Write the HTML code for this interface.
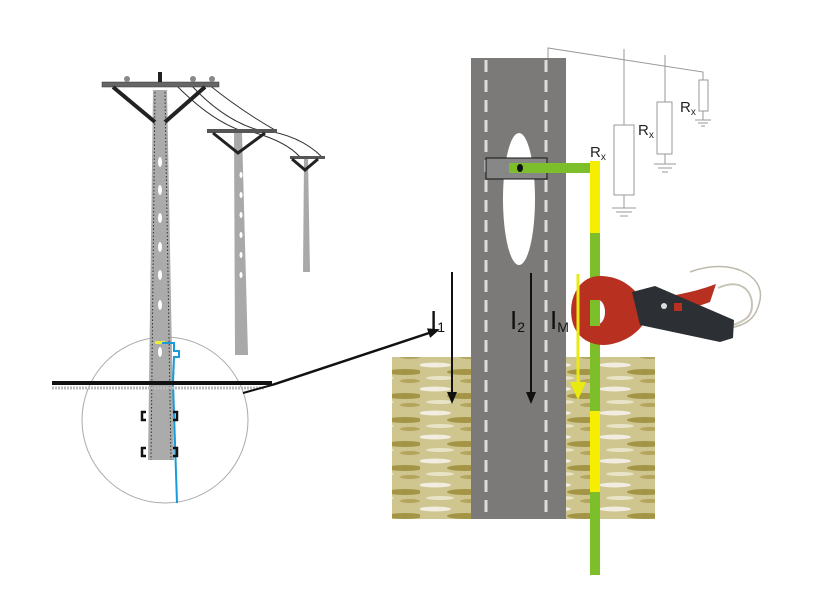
<!DOCTYPE html>
<html><head><meta charset="utf-8"><style>body{margin:0;background:#fff}svg{display:block}</style></head><body>
<svg width="815" height="605" viewBox="0 0 815 605" xmlns="http://www.w3.org/2000/svg" font-family="Liberation Sans, sans-serif">
<defs>
<pattern id="soil" width="60" height="24" patternUnits="userSpaceOnUse">
<rect width="60" height="24" fill="#cfc58f"/>
<ellipse cx="15" cy="5" rx="16" ry="2.5" fill="#f1ede0"/>
<ellipse cx="45" cy="12" rx="18" ry="3" fill="#a39545"/>
<ellipse cx="20" cy="18" rx="14" ry="2" fill="#e9e3c8"/>
<ellipse cx="50" cy="21" rx="10" ry="2" fill="#b3a55c"/>
</pattern>
<marker id="ah" markerWidth="12" markerHeight="10" refX="10" refY="5" orient="auto" markerUnits="userSpaceOnUse"><path d="M0,0 L12,5 L0,10 z" fill="#111"/></marker>
</defs>
<circle cx="165" cy="420" r="83" fill="none" stroke="#aaa" stroke-width="1"/>
<path d="M175,84 Q210,120 242,131 M190,84 Q225,122 262,131 M208,84 Q240,110 275,130 M245,130 Q285,140 300,157 M262,130 Q300,135 322,157" stroke="#333" fill="none" stroke-width="1"/>
<polygon points="304,158 308,158 310,272 303,272" fill="#a9a9a9"/>
<rect x="290" y="156" width="35" height="3" fill="#555"/>
<path d="M292,159 L305,170 L318,159" stroke="#222" stroke-width="3" fill="none"/>
<polygon points="234,132 242,132 248,355 235,355" fill="#a9a9a9"/>
<rect x="207" y="129" width="70" height="4" fill="#555"/>
<path d="M213,133 L238,153 L265,133" stroke="#222" stroke-width="3" fill="none"/>
<g fill="#fff"><ellipse cx="241" cy="175" rx="1.5" ry="3"/><ellipse cx="241" cy="195" rx="1.5" ry="3"/><ellipse cx="241" cy="215" rx="1.5" ry="3"/><ellipse cx="241" cy="235" rx="1.5" ry="3"/><ellipse cx="241" cy="255" rx="1.5" ry="3"/><ellipse cx="241" cy="275" rx="1.5" ry="3"/></g>
<polygon points="153,90 167,90 174,460 148,460" fill="#ababab"/>
<path d="M155,92 L151,460 M165,92 L171,460" stroke="#333" stroke-width="1" stroke-dasharray="1.5,2"/>
<g fill="#fff"><ellipse cx="160" cy="162" rx="2" ry="5"/><ellipse cx="160" cy="190" rx="2" ry="5"/><ellipse cx="160" cy="218" rx="2" ry="5"/><ellipse cx="160" cy="247" rx="2" ry="5"/><ellipse cx="160" cy="275" rx="2" ry="5"/><ellipse cx="160" cy="305" rx="2" ry="5"/><ellipse cx="160" cy="352" rx="2" ry="5"/></g>
<rect x="102" y="82" width="117" height="5" fill="#666" stroke="#333" stroke-width="0.5"/>
<rect x="158" y="72" width="4" height="10" fill="#222"/>
<g fill="#888"><circle cx="127" cy="79" r="3"/><circle cx="193" cy="79" r="3"/><circle cx="212" cy="79" r="3"/></g>
<path d="M113,87 L155,122 M205,87 L165,122" stroke="#222" stroke-width="4"/>
<rect x="155" y="341" width="10" height="3" fill="#ee3"/>
<path d="M162,343 L174,343 L174,351 L179,351 L179,357 L174,357 L173,383 L177,503" stroke="#1a9ad6" stroke-width="2" fill="none"/>
<rect x="52" y="381" width="220" height="4" fill="#111"/>
<line x1="52" y1="388" x2="265" y2="388" stroke="#bbb" stroke-width="3" stroke-dasharray="2,1"/>
<path d="M146,412 h-4 v8 h4 M146,448 h-4 v8 h4 M173,412 h4 v8 h-4 M173,448 h4 v8 h-4" stroke="#111" stroke-width="2.5" fill="none"/>
<line x1="243" y1="393" x2="272" y2="385" stroke="#111" stroke-width="2"/>
<line x1="272" y1="385" x2="438" y2="330" stroke="#111" stroke-width="2.5" marker-end="url(#ah)"/>
<rect x="392" y="357" width="263" height="162" fill="url(#soil)"/>
<rect x="471" y="58" width="95" height="461" fill="#7b7a79"/>
<path d="M486,60 V518 M546,60 V518" stroke="#dcdcdc" stroke-width="3" stroke-dasharray="12,8"/>
<ellipse cx="519" cy="199" rx="16" ry="66" fill="#fff"/>
<rect x="486" y="158" width="61" height="21" fill="#878787" stroke="#111" stroke-width="1"/>
<rect x="509" y="163" width="83" height="10" fill="#7cbf2a"/>
<ellipse cx="520" cy="168" rx="3" ry="4" fill="#111"/>
<rect x="590" y="161" width="10" height="72" fill="#f5ee00"/>
<rect x="590" y="233" width="10" height="178" fill="#7cbf2a"/>
<rect x="590" y="411" width="10" height="81" fill="#f5ee00"/>
<rect x="590" y="492" width="10" height="83" fill="#7cbf2a"/>
<g stroke="#999" fill="none" stroke-width="1">
<path d="M548,58 V48 L703,72 V80 M624,49 V125 M665,55 V102"/>
<rect x="614" y="125" width="20" height="70" fill="#fff"/>
<rect x="657" y="102" width="15" height="52" fill="#fff"/>
<rect x="699" y="80" width="9" height="31" fill="#fff"/>
<path d="M624,195 V208 M612,208 h24 M616,212 h16 M620,216 h8 M665,154 V164 M654,164 h22 M658,168 h14 M662,172 h6 M703,111 V120 M695,120 h16 M698,123 h10 M701,126 h4"/>
</g>
<g font-size="15" fill="#222">
<text x="590" y="157">R<tspan font-size="10" dy="3">x</tspan></text>
<text x="638" y="135">R<tspan font-size="10" dy="3">x</tspan></text>
<text x="680" y="112">R<tspan font-size="10" dy="3">x</tspan></text>
</g>
<!-- clamp -->
<path d="M718,288 C740,278 752,290 752,305 C752,320 740,322 726,328" stroke="#c8c5b8" stroke-width="2" fill="none"/>
<path d="M690,272 C730,257 765,275 760,300 C756,320 745,325 730,328" stroke="#bdb9ab" stroke-width="1.5" fill="none"/>
<path d="M600,276 C578,276 568,300 572,320 C576,340 595,348 612,344 C630,340 640,330 646,320 L640,300 C660,298 690,294 716,284 L710,302 C690,310 665,312 646,312 L636,292 C625,280 612,276 600,276 Z" fill="#b8301f"/>
<ellipse cx="598" cy="312" rx="7" ry="12" fill="#fff"/>
<rect x="590" y="300" width="10" height="26" fill="#7cbf2a"/>
<path d="M632,292 L655,286 L734,320 L733,338 L720,342 L640,325 Z" fill="#2c3034"/>
<circle cx="664" cy="306" r="3" fill="#ddd"/>
<rect x="674" y="303" width="8" height="8" fill="#b83020"/>
<line x1="452" y1="272" x2="452" y2="402" stroke="#111" stroke-width="2" marker-end="url(#ah)"/>
<line x1="531" y1="273" x2="531" y2="402" stroke="#111" stroke-width="2" marker-end="url(#ah)"/>
<line x1="578" y1="274" x2="578" y2="386" stroke="#e8ea10" stroke-width="3"/>
<path d="M570,382 L586,382 L578,400 Z" fill="#e8ea10"/>
<g font-size="26" fill="#111">
<text x="430" y="329">I<tspan font-size="14" dy="3">1</tspan></text>
<text x="510" y="329">I<tspan font-size="14" dy="3">2</tspan></text>
<text x="550" y="329">I<tspan font-size="14" dy="3">M</tspan></text>
</g>
</svg>
</body></html>
